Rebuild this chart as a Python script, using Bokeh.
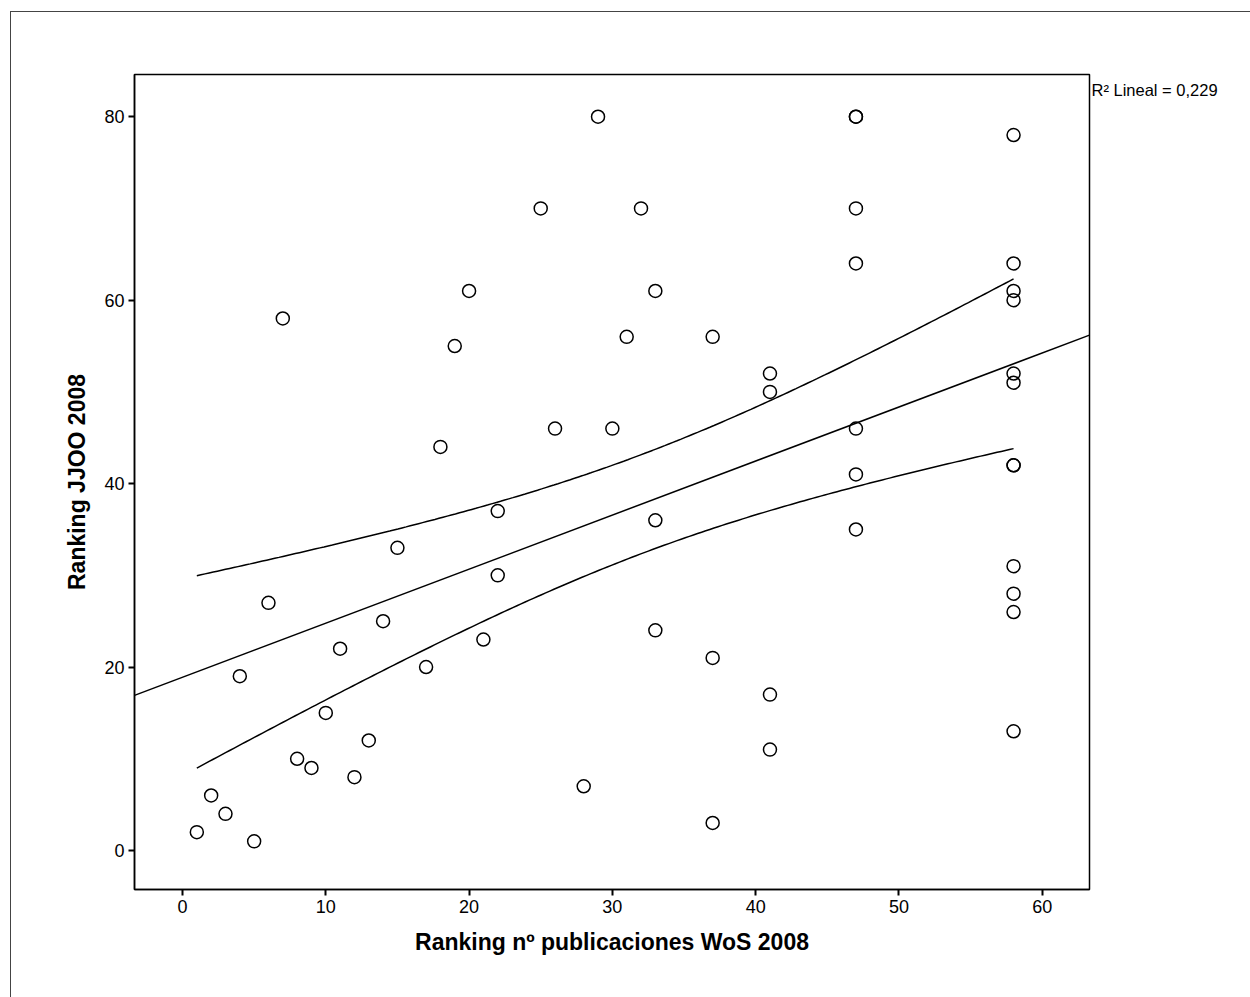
import numpy as np
from bokeh.plotting import figure
from bokeh.models import Range1d, FixedTicker, LinearAxis
from bokeh.embed import file_html
from bokeh.resources import INLINE

# Data
pub_rank = [1, 2, 3, 4, 5, 6, 7, 8, 9, 10, 11, 12, 13, 14, 15, 17, 18, 19, 20, 21,
            22, 22, 25, 26, 28, 29, 30, 31, 32, 33, 33, 33, 37, 37, 37, 41, 41, 41, 41,
            47, 47, 47, 47, 47, 47, 47,
            58, 58, 58, 58, 58, 58, 58, 58, 58, 58, 58, 58]
jjoo_rank = [2, 6, 4, 19, 1, 27, 58, 10, 9, 15, 22, 8, 12, 25, 33, 20, 44, 55, 61, 23,
             37, 30, 70, 46, 7, 80, 46, 56, 70, 61, 36, 24, 56, 21, 3, 52, 50, 17, 11,
             80, 80, 70, 64, 46, 41, 35,
             78, 64, 61, 60, 52, 51, 42, 42, 31, 28, 26, 13]
x_ticks = [0, 10, 20, 30, 40, 50, 60]
y_ticks = [0, 20, 40, 60, 80]
r2_text = "R\u00b2  Lineal = 0,229"

FONT = "Liberation Sans"
x_min, x_max = -3.35, 63.3
y_min, y_max = -4.25, 84.6
R2_POS = 82.9  # vertical placement of the R² note (y units)

p = figure(width=1240, height=986, output_backend="svg", toolbar_location=None,
           x_range=Range1d(x_min, x_max), y_range=Range1d(y_min, y_max),
           min_border_left=123, min_border_top=62, min_border_right=162, min_border_bottom=109)
p.margin = (11, 0, 0, 10)
p.styles = {"border-left": "1px solid #444", "border-top": "1px solid #444"}
p.background_fill_color = "white"
p.border_fill_color = "white"
p.outline_line_color = "black"
p.outline_line_width = 1.5
p.grid.visible = False

for ax in (p.xaxis[0], p.yaxis[0]):
    ax.axis_line_color = "black"
    ax.axis_line_width = 1.5
    ax.major_tick_line_color = "black"
    ax.major_tick_line_width = 2
    ax.major_tick_out = 6
    ax.major_tick_in = 0
    ax.minor_tick_line_color = None
    ax.major_label_text_font = FONT
    ax.major_label_text_font_size = "18px"
    ax.major_label_text_color = "black"
    ax.axis_label_text_font = FONT
    ax.axis_label_text_font_style = "bold"
    ax.axis_label_text_font_size = "23px"
    ax.axis_label_text_color = "black"
    ax.major_label_standoff = 4

p.xaxis[0].ticker = FixedTicker(ticks=x_ticks)
p.yaxis[0].ticker = FixedTicker(ticks=y_ticks)
p.xaxis[0].axis_label = "Ranking nº publicaciones WoS 2008"
p.yaxis[0].axis_label = "Ranking JJOO 2008"
p.xaxis[0].axis_label_standoff = 13
p.yaxis[0].axis_label_standoff = 11

# R² note to the right of the plot frame, as a single-label axis
r2_axis = LinearAxis(ticker=FixedTicker(ticks=[R2_POS]),
                     major_label_overrides={R2_POS: r2_text},
                     axis_line_color=None, major_tick_line_color=None,
                     minor_tick_line_color=None, major_tick_out=0, major_tick_in=0,
                     major_label_standoff=2,
                     major_label_text_font=FONT, major_label_text_font_size="16.5px",
                     major_label_text_color="black")
p.add_layout(r2_axis, "right")

# Linear fit with 95% confidence band for the mean, computed from the data
xa = np.array(pub_rank, dtype=float)
ya = np.array(jjoo_rank, dtype=float)
n = len(xa)
b, a = np.polyfit(xa, ya, 1)
resid = ya - (a + b * xa)
s = np.sqrt(np.sum(resid ** 2) / (n - 2))
sxx = np.sum((xa - xa.mean()) ** 2)
t = 2.0040  # t(0.975, n-2)

xl = np.array([x_min, x_max])
p.line(xl, a + b * xl, line_color="black", line_width=1.5)

xc = np.linspace(xa.min(), xa.max(), 200)
se = s * np.sqrt(1.0 / n + (xc - xa.mean()) ** 2 / sxx)
yc = a + b * xc
p.line(xc, yc + t * se, line_color="black", line_width=1.5)
p.line(xc, yc - t * se, line_color="black", line_width=1.5)

p.scatter(pub_rank, jjoo_rank, marker="circle", size=13, fill_color=None,
          line_color="black", line_width=1.5)

open("out.html", "w").write(file_html(p, INLINE))
